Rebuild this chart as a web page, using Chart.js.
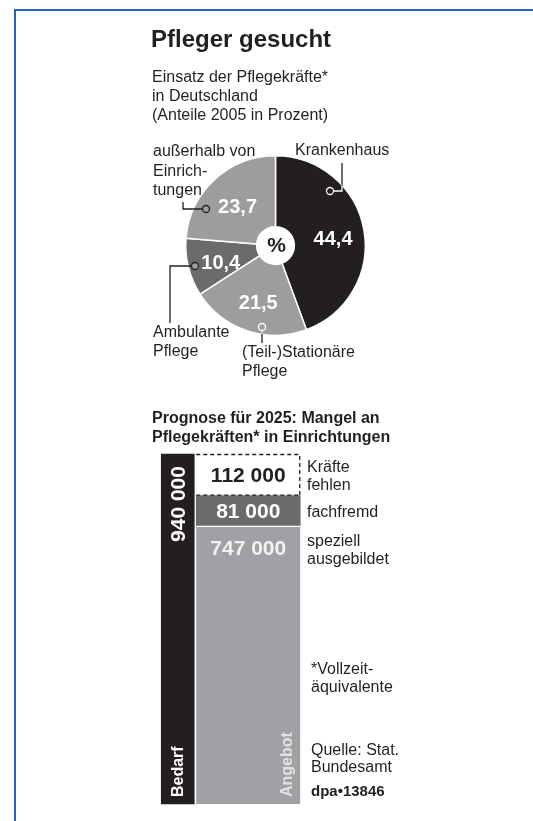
<!DOCTYPE html>
<html>
<head>
<meta charset="utf-8">
<script src="https://cdn.jsdelivr.net/npm/chart.js@4"></script>
<style>
  html, body { margin: 0; padding: 0; background: #fff; }
  #page { position: relative; width: 533px; height: 821px; overflow: hidden;
          font-family: "Liberation Sans", Arial, sans-serif; color: #231f20; }
  #frame { position: absolute; left: 14px; top: 9px; right: -10px; bottom: -10px;
           border-top: 2px solid #2462c4; border-left: 2px solid #2462c4; }
  canvas { position: absolute; left: 0; top: 0; }
  .t { position: absolute; font-size: 16px; line-height: 18.5px; white-space: nowrap; }
  .b { font-weight: bold; }
</style>
</head>
<body>
<div id="page">
  <div id="frame"></div>
  <canvas id="pie" width="533" height="821"></canvas>
  <canvas id="bars" width="533" height="821"></canvas>

  <div class="t b" style="left:151px;top:27px;font-size:24px;line-height:24px;">Pfleger gesucht</div>
  <div class="t" style="left:152px;top:67px;line-height:19px;">Einsatz der Pflegekräfte*<br>in Deutschland<br>(Anteile 2005 in Prozent)</div>

  <div class="t" style="left:153px;top:141px;line-height:19.5px;">außerhalb von<br>Einrich-<br>tungen</div>
  <div class="t" style="left:295px;top:141px;">Krankenhaus</div>
  <div class="t" style="left:153px;top:322px;line-height:19px;">Ambulante<br>Pflege</div>
  <div class="t" style="left:242px;top:342px;line-height:19px;">(Teil-)Stationäre<br>Pflege</div>

  <div class="t b" style="left:152px;top:408px;line-height:19px;">Prognose für 2025: Mangel an<br>Pflegekräften* in Einrichtungen</div>

  <div class="t" style="left:307px;top:458px;line-height:17.7px;">Kräfte<br>fehlen</div>
  <div class="t" style="left:307px;top:503px;">fachfremd</div>
  <div class="t" style="left:307px;top:532px;line-height:17.7px;">speziell<br>ausgebildet</div>
  <div class="t" style="left:311px;top:660px;line-height:17.7px;">*Vollzeit-<br>äquivalente</div>
  <div class="t" style="left:311px;top:742px;line-height:16.7px;">Quelle: Stat.<br>Bundesamt</div>
  <div class="t b" style="left:311px;top:782px;font-size:15px;">dpa•13846</div>
</div>

<script>
// pie: Einsatz der Pflegekräfte 2005 (Prozent)
const pieLabels = ['Krankenhaus', '(Teil-)Stationäre Pflege', 'Ambulante Pflege', 'außerhalb von Einrichtungen'];
const pieValues = [44.4, 21.5, 10.4, 23.7];

// bars: Prognose 2025
const categories = ['Bedarf', 'Angebot'];
const bedarf = [940000, null];
const speziell = [null, 747000];
const fachfremd = [null, 81000];
const fehlen = [null, 112000];

const ink = '#231f20';
const darkGray = '#6b6b6d';
const lightGray = '#9d9d9f';

function deNum(v) {
  return String(v).replace('.', ',');
}
function thousands(v) {
  return String(v).replace(/\B(?=(\d{3})+(?!\d))/g, ' ');
}

// leader lines from the labels to the slices
const leaders = [
  { dot: [330, 191], path: [[342, 191], [342, 163]], dotColor: '#fff' },
  { dot: [206, 209], path: [[183, 209], [183, 202]], dotColor: ink },
  { dot: [195, 266], path: [[170, 266], [170, 323]], dotColor: ink },
  { dot: [262, 327], path: [[262, 343]], dotColor: '#fff' }
];

const pieText = {
  id: 'pieText',
  afterDatasetsDraw(chart) {
    const ctx = chart.ctx;
    const arcs = chart.getDatasetMeta(0).data;
    const cx = arcs[0].x, cy = arcs[0].y, R = arcs[0].outerRadius;
    ctx.save();
    // leader lines
    leaders.forEach(l => {
      const pts = [l.dot].concat(l.path);
      ctx.lineWidth = 1.3;
      ctx.strokeStyle = ink;
      ctx.beginPath();
      pts.forEach((p, i) => i ? ctx.lineTo(p[0], p[1]) : ctx.moveTo(p[0], p[1]));
      ctx.stroke();
      if (l.dotColor === '#fff') {
        // part inside the pie drawn light
        ctx.save();
        ctx.beginPath();
        ctx.arc(cx, cy, R, 0, Math.PI * 2);
        ctx.clip();
        ctx.strokeStyle = '#fff';
        ctx.beginPath();
        pts.forEach((p, i) => i ? ctx.lineTo(p[0], p[1]) : ctx.moveTo(p[0], p[1]));
        ctx.stroke();
        ctx.restore();
      }
    });
    leaders.forEach((l, i) => {
      ctx.beginPath();
      ctx.arc(l.dot[0], l.dot[1], 3.5, 0, Math.PI * 2);
      ctx.fillStyle = i === 0 ? ink : lightGray;
      ctx.fill();
      ctx.strokeStyle = l.dotColor;
      ctx.lineWidth = 1.3;
      ctx.stroke();
    });
    // values
    ctx.font = 'bold 20px "Liberation Sans", Arial, sans-serif';
    ctx.textAlign = 'center';
    ctx.textBaseline = 'middle';
    ctx.fillStyle = '#fff';
    arcs.forEach((a, i) => {
      const mid = (a.startAngle + a.endAngle) / 2;
      const r = a.outerRadius * 0.64;
      ctx.fillText(deNum(pieValues[i]), a.x + Math.cos(mid) * r + 1, a.y + Math.sin(mid) * r + 4);
    });
    ctx.fillStyle = ink;
    ctx.font = 'bold 21px "Liberation Sans", Arial, sans-serif';
    ctx.fillText('%', cx + 1, cy + 1);
    ctx.restore();
  }
};

new Chart(document.getElementById('pie'), {
  type: 'doughnut',
  data: {
    labels: pieLabels,
    datasets: [{
      data: pieValues,
      backgroundColor: [ink, lightGray, darkGray, lightGray],
      borderColor: '#fff',
      borderWidth: 1.5
    }]
  },
  options: {
    responsive: false,
    animation: false,
    events: [],
    cutout: '21%',
    layout: { padding: { left: 185, right: 167, top: 155, bottom: 485 } },
    plugins: { legend: { display: false }, tooltip: { enabled: false } }
  },
  plugins: [pieText]
});

const barText = {
  id: 'barText',
  afterDatasetsDraw(chart) {
    const ctx = chart.ctx;
    const bedEl = chart.getDatasetMeta(0).data[0];
    const spezEl = chart.getDatasetMeta(1).data[1];
    const fremdEl = chart.getDatasetMeta(2).data[1];
    const fehlEl = chart.getDatasetMeta(3).data[1];
    ctx.save();

    // dashed outline of the missing staff
    const l = fehlEl.x - fehlEl.width / 2, r = fehlEl.x + fehlEl.width / 2;
    ctx.strokeStyle = ink;
    ctx.lineWidth = 1.3;
    ctx.setLineDash([4, 3]);
    ctx.beginPath();
    ctx.moveTo(l, fehlEl.y + 0.5);
    ctx.lineTo(r - 0.5, fehlEl.y + 0.5);
    ctx.lineTo(r - 0.5, fehlEl.base);
    ctx.moveTo(l, fehlEl.base - 0.5);
    ctx.lineTo(r, fehlEl.base - 0.5);
    ctx.stroke();
    ctx.setLineDash([]);

    ctx.font = 'bold 21px "Liberation Sans", Arial, sans-serif';
    ctx.textAlign = 'center';
    ctx.textBaseline = 'middle';
    ctx.fillStyle = ink;
    ctx.fillText(thousands(fehlen[1]), fehlEl.x, (fehlEl.y + fehlEl.base) / 2 + 1);
    ctx.fillStyle = '#fff';
    ctx.fillText(thousands(fachfremd[1]), fremdEl.x, (fremdEl.y + fremdEl.base) / 2 + 1);
    ctx.fillStyle = '#f2f2f2';
    ctx.fillText(thousands(speziell[1]), spezEl.x, spezEl.y + 23);

    // rotated texts
    ctx.save();
    ctx.translate(bedEl.x + 1, bedEl.y + 50);
    ctx.rotate(-Math.PI / 2);
    ctx.fillStyle = '#fff';
    ctx.fillText(thousands(bedarf[0]), 0, 0);
    ctx.restore();

    ctx.font = 'bold 16px "Liberation Sans", Arial, sans-serif';
    ctx.textAlign = 'left';
    ctx.save();
    ctx.translate(bedEl.x + 1, bedEl.base - 7);
    ctx.rotate(-Math.PI / 2);
    ctx.fillStyle = '#fff';
    ctx.fillText(categories[0], 0, 0);
    ctx.restore();

    ctx.save();
    ctx.translate(spezEl.x + spezEl.width / 2 - 13, spezEl.base - 7);
    ctx.rotate(-Math.PI / 2);
    ctx.fillStyle = '#e2e2e3';
    ctx.fillText(categories[1], 0, 0);
    ctx.restore();

    ctx.restore();
  }
};

new Chart(document.getElementById('bars'), {
  type: 'bar',
  data: {
    labels: categories,
    datasets: [
      { label: 'Bedarf', data: bedarf, backgroundColor: ink, barThickness: 33, clip: false },
      { label: 'speziell ausgebildet', data: speziell, backgroundColor: '#a0a1a4', clip: false,
        barThickness: 104, borderColor: '#fff', borderWidth: { top: 1.5, left: 0, right: 0, bottom: 0 }, borderSkipped: false },
      { label: 'fachfremd', data: fachfremd, backgroundColor: darkGray, barThickness: 104, clip: false },
      { label: 'Kräfte fehlen', data: fehlen, backgroundColor: '#fff', barThickness: 104, clip: false }
    ]
  },
  options: {
    responsive: false,
    animation: false,
    events: [],
    layout: { padding: { left: 142.5, right: 249.5, top: 454, bottom: 17 } },
    scales: {
      x: { display: false, stacked: true },
      y: { display: false, stacked: true, min: 0, max: 940000 }
    },
    plugins: { legend: { display: false }, tooltip: { enabled: false } }
  },
  plugins: [barText]
});
</script>
</body>
</html>
